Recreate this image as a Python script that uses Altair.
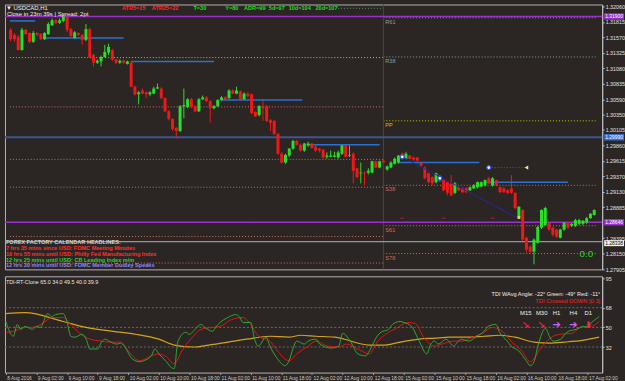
import altair as alt
import pandas as pd

BG = "#2b2623"
FONT = "Liberation Sans"
W = 602
H_MAIN = 267
H_IND = 97
GREEN = "#27e027"
RED = "#f01818"

# ---------------- H1 candles (USDCAD) ----------------
bar_open = [1.3169,1.3161,1.3158,1.3137,1.3169,1.3164,1.3150,1.3164,1.3162,1.3154,
1.3162,1.3176,1.3184,1.3180,1.3183,1.3189,1.3170,1.3156,1.3164,1.3161,
1.3153,1.3170,1.3129,1.3117,1.3119,1.3126,1.3133,1.3137,1.3122,1.3117,
1.3120,1.3115,1.3117,1.3079,1.3067,1.3073,1.3070,1.3067,1.3068,1.3076,
1.3076,1.3061,1.3040,1.3028,1.3014,1.3009,1.3048,1.3047,1.3059,1.3048,
1.3040,1.3059,1.3062,1.3056,1.3045,1.3048,1.3058,1.3062,1.3061,1.3073,
1.3068,1.3072,1.3059,1.3068,1.3067,1.3039,1.3034,1.3048,1.3048,1.3026,
1.3025,1.3004,1.2973,1.2959,1.2970,1.2981,1.2993,1.2987,1.2978,1.2986,
1.2989,1.2984,1.2981,1.2979,1.2968,1.2968,1.2968,1.2967,1.2973,1.2986,
1.2970,1.2973,1.2950,1.2942,1.2943,1.2943,1.2943,1.2961,1.2951,1.2962,
1.2948,1.2951,1.2957,1.2959,1.2973,1.2965,1.2970,1.2967,1.2967,1.2959,
1.2951,1.2942,1.2936,1.2928,1.2931,1.2931,1.2928,1.2926,1.2911,1.2920,
1.2918,1.2918,1.2915,1.2918,1.2920,1.2921,1.2923,1.2934,1.2923,1.2931,
1.2920,1.2918,1.2915,1.2918,1.2911,1.2873,1.2884,1.2840,1.2826,1.2818,
1.2832,1.2856,1.2860,1.2864,1.2856,1.2853,1.2840,1.2853,1.2864,1.2859,
1.2859,1.2862,1.2862,1.2864,1.2871,1.2876]
bar_close = [1.3154,1.3154,1.3137,1.3169,1.3162,1.3150,1.3164,1.3161,1.3154,1.3164,
1.3178,1.3184,1.3180,1.3184,1.3190,1.3169,1.3159,1.3165,1.3161,1.3153,
1.3170,1.3126,1.3117,1.3120,1.3126,1.3134,1.3142,1.3122,1.3117,1.3120,
1.3117,1.3119,1.3079,1.3067,1.3070,1.3068,1.3067,1.3070,1.3076,1.3078,
1.3061,1.3040,1.3028,1.3012,1.3009,1.3048,1.3050,1.3059,1.3047,1.3040,
1.3059,1.3062,1.3056,1.3045,1.3048,1.3058,1.3062,1.3059,1.3073,1.3068,
1.3073,1.3059,1.3068,1.3064,1.3037,1.3032,1.3048,1.3045,1.3025,1.3022,
1.3004,1.2973,1.2959,1.2971,1.2981,1.2993,1.2987,1.2978,1.2989,1.2989,
1.2982,1.2978,1.2978,1.2967,1.2970,1.2970,1.2970,1.2975,1.2986,1.2968,
1.2971,1.2946,1.2936,1.2943,1.2942,1.2946,1.2961,1.2951,1.2961,1.2959,
1.2953,1.2959,1.2965,1.2970,1.2965,1.2973,1.2965,1.2964,1.2962,1.2954,
1.2934,1.2928,1.2926,1.2942,1.2937,1.2915,1.2911,1.2907,1.2926,1.2915,
1.2912,1.2912,1.2920,1.2923,1.2928,1.2928,1.2931,1.2926,1.2934,1.2923,
1.2912,1.2912,1.2911,1.2911,1.2887,1.2889,1.2837,1.2821,1.2818,1.2837,
1.2857,1.2884,1.2887,1.2853,1.2845,1.2842,1.2853,1.2864,1.2856,1.2862,
1.2868,1.2868,1.2867,1.2871,1.2878,1.2884]
bar_high = [1.3172,1.3164,1.3161,1.3172,1.3170,1.3165,1.3167,1.3165,1.3164,1.3165,
1.3181,1.3187,1.3186,1.3187,1.3194,1.3190,1.3172,1.3167,1.3165,1.3162,
1.3178,1.3172,1.3131,1.3122,1.3128,1.3145,1.3147,1.3139,1.3123,1.3122,
1.3122,1.3120,1.3119,1.3081,1.3072,1.3076,1.3072,1.3072,1.3079,1.3084,
1.3078,1.3062,1.3042,1.3029,1.3015,1.3050,1.3076,1.3061,1.3061,1.3050,
1.3061,1.3065,1.3064,1.3058,1.3050,1.3059,1.3064,1.3064,1.3075,1.3075,
1.3079,1.3073,1.3070,1.3070,1.3068,1.3040,1.3050,1.3059,1.3050,1.3028,
1.3026,1.3006,1.2975,1.2973,1.2982,1.2995,1.2995,1.2989,1.2990,1.2992,
1.2990,1.2986,1.2982,1.2981,1.2975,1.2978,1.2976,1.2978,1.2987,1.2987,
1.2986,1.2975,1.2951,1.2959,1.2945,1.2950,1.2962,1.2962,1.2962,1.2964,
1.2954,1.2961,1.2967,1.2971,1.2975,1.2976,1.2971,1.2968,1.2968,1.2961,
1.2953,1.2943,1.2937,1.2943,1.2939,1.2932,1.2929,1.2939,1.2928,1.2921,
1.2920,1.2920,1.2921,1.2925,1.2929,1.2929,1.2932,1.2936,1.2936,1.2932,
1.2921,1.2920,1.2917,1.2939,1.2912,1.2890,1.2885,1.2842,1.2828,1.2839,
1.2859,1.2885,1.2889,1.2865,1.2857,1.2854,1.2854,1.2865,1.2865,1.2864,
1.2870,1.2870,1.2868,1.2873,1.2879,1.2885]
bar_low = [1.3151,1.3150,1.3136,1.3136,1.3161,1.3148,1.3148,1.3159,1.3153,1.3153,
1.3161,1.3175,1.3178,1.3178,1.3181,1.3165,1.3158,1.3154,1.3159,1.3145,
1.3151,1.3125,1.3111,1.3115,1.3111,1.3125,1.3129,1.3120,1.3115,1.3115,
1.3115,1.3114,1.3078,1.3065,1.3051,1.3067,1.3061,1.3064,1.3067,1.3075,
1.3059,1.3039,1.3026,1.3009,1.2997,1.3007,1.3029,1.3045,1.3045,1.3039,
1.3039,1.3058,1.3054,1.3022,1.3043,1.3047,1.3056,1.3058,1.3059,1.3067,
1.3067,1.3058,1.3058,1.3062,1.3036,1.3031,1.3032,1.3025,1.3023,1.3009,
1.3003,1.2971,1.2957,1.2957,1.2968,1.2979,1.2986,1.2976,1.2976,1.2984,
1.2981,1.2976,1.2975,1.2965,1.2965,1.2967,1.2967,1.2965,1.2971,1.2967,
1.2968,1.2926,1.2934,1.2926,1.2923,1.2940,1.2942,1.2950,1.2950,1.2957,
1.2946,1.2950,1.2956,1.2957,1.2964,1.2964,1.2964,1.2962,1.2961,1.2953,
1.2932,1.2926,1.2923,1.2926,1.2929,1.2914,1.2907,1.2906,1.2909,1.2914,
1.2911,1.2911,1.2914,1.2917,1.2918,1.2920,1.2921,1.2925,1.2921,1.2921,
1.2911,1.2911,1.2909,1.2909,1.2885,1.2871,1.2835,1.2817,1.2815,1.2798,
1.2831,1.2854,1.2859,1.2851,1.2842,1.2840,1.2839,1.2851,1.2854,1.2857,
1.2857,1.2860,1.2860,1.2862,1.2870,1.2875]

# ---------------- price axis ----------------
# (1.28640 sits under the 1.28646 price tag in the reference, so it is not shown)
price_ticks = [1.32060,1.31815,1.31570,1.31325,1.31080,1.30835,1.30590,1.30350,1.30105,
               1.29860,1.29615,1.29370,1.29130,1.28885,1.28395,1.28150,1.27905]
tag_prices = [1.31900, 1.29990, 1.28646]
tag_text = ["1.31900", "1.29990", "1.28646"]
tag_bg = ["#9932cc", "#3a6fd8", "#9932cc"]
bid_price = [1.28338]
bid_text = ["1.28338"]

# full-width solid lines
solid_prices = [1.31900, 1.29990, 1.28646, 1.28338]
solid_colors = ["#9932cc", "#3d5590", "#9932cc", "#8a98a8"]
solid_widths = [1.5, 2.2, 1.5, 1.2]

# previous-day pivot levels (left) and today's pivots (right)
left_start = [87, -0.2, -0.2, -0.2, -0.2, -0.2, -0.2]
left_prices = [1.3203, 1.3125, 1.3047, 1.2964, 1.2920, 1.2842, 1.2800]
left_colors = ["#4f9a6f", "#c8c800", "#cf6d62", "#cf6d62", "#cf6d62", "#cf6d62", "#cf6d62"]
pivot_names = ["R61", "R38", "PP", "S38", "S61", "S78"]
pivot_prices = [1.3188, 1.3126, 1.3025, 1.2923, 1.2859, 1.2815]
pivot_colors = ["#7fa3a3", "#7fa3a3", "#c8c800", "#cf6d62", "#cf6d62", "#cf6d62"]
split_bar = 99

# support/resistance segments
sr_start = [-0.2, 9, 32, 56, 79, 103, 126.5]
sr_end = [6.5, 30, 54, 77.5, 98, 124.5, 148]
sr_price = [1.3183, 1.3156, 1.3119, 1.3058, 1.2987, 1.2959, 1.2928]

# ---------------- TDI indicator ----------------
green_bar = [0,2,3,4,5,7,8,9,11,12,13,15,16,17,18,20,21,22,24,25,26,27,29,30,31,33,35,36,38,39,40,42,43,44,45,47,48,49,51,52,54,55,56,58,60,61,62,64,65,66,68,69,71,73,74,75,76,78,79,81,82,85,87,88,90,92,94,95,97,98,100,101,103,104,106,108,110,111,112,113,115,117,118,119,121,123,125,126,128,129,131,132,134,136,137,138,139,141,142,143,145,146,147,149,151,152,153,154,155]
green_val = [55.4,41.9,52.7,48.2,50.9,48.2,50.9,50,62.6,59.9,61.7,62.6,55.4,41.9,41,43.7,39.2,30.2,30.2,36.5,39.2,37.4,34.7,35.6,32.9,21.2,18.5,19.4,23.9,30.2,25.7,18.5,14,12.2,37.4,45.5,43.7,46.4,52.7,50,46.4,50.9,54.5,59,61.7,59.9,54.5,54.5,39.2,32.9,41,32.9,21.2,14.9,19.4,30.2,37.4,34.7,37.4,39.2,34.7,31.1,32.9,44.6,37.4,25.7,23.9,28.4,41.9,45.5,48.2,52.7,55.4,54.5,50.9,37.4,25.7,34.7,37.4,34.7,39.2,32.9,36.5,39.2,37.4,41.9,46.4,50.9,52.7,45.5,37.4,32.9,28.4,19.4,14.9,18.5,32.9,49.1,41.9,37.4,39.2,43.7,46.4,48.2,50.9,50,54.5,57.2,59.9]
red_bar = [0,2,5,7,10,12,15,17,19,22,25,27,30,32,35,38,40,42,44,46,49,51,54,56,59,62,64,66,69,71,74,76,79,81,84,87,89,92,95,97,100,102,105,107,109,112,114,117,119,122,125,127,130,132,135,137,140,143,145,148,150,153,155]
red_val = [45.5,46.4,50,50,54.5,59,59,52.7,45.5,39.2,37.4,36.5,36.5,28.4,19.4,23.9,25.7,23,16.7,28.4,41.9,48.2,50,50.9,57.2,59,52.7,41.9,37.4,28.4,19.4,25.7,32.9,37.4,32.9,32,34.7,30.2,25.7,36.5,45.5,49.1,54.5,53.6,41.9,32.9,34.7,37.4,37.4,41,45.5,50,45.5,37.4,27.5,18.5,32,41.9,43.7,44.6,50,50.9,55.4]
gold_bar = [0,5,15,21,28,34,40,44,49,53,58,63,69,74,77,81,86,95,99,103,108,112,116,120,125,129,133,138,142,146,151,155]
gold_val = [62.6,63.5,55.4,50,46.4,43.7,39.2,33.8,32,33.8,36.5,39.2,41.9,41,42.8,41.9,41,33.8,33.8,36.5,39.2,40.1,41,41,41.9,42.8,41,36.5,35.6,36.5,38.3,41]
tdi_levels = [68, 50, 32]
tdi_ticks = [95, 68, 50, 32, 8]

time_ticks = list(range(0, 153, 8))
time_labels = ["8 Aug 2016","9 Aug 02:00","9 Aug 10:00","9 Aug 18:00","10 Aug 02:00","10 Aug 10:00",
               "10 Aug 18:00","11 Aug 02:00","11 Aug 10:00","11 Aug 18:00","12 Aug 02:00","12 Aug 10:00",
               "12 Aug 18:00","15 Aug 02:00","15 Aug 10:00","15 Aug 18:00","16 Aug 02:00","16 Aug 10:00",
               "16 Aug 18:00","17 Aug 02:00"]

# ---------------- build ----------------
xs = alt.Scale(domain=[-0.2, 155.8], nice=False, zero=False)
ys = alt.Scale(domain=[1.2790, 1.3209], nice=False, zero=False)
iys = alt.Scale(domain=[8.6, 96.8], nice=False, zero=False)

yaxis = alt.Axis(orient="right", values=price_ticks, format=".5f", labelFontSize=5.4, labelFont=FONT,
                 labelColor="#e2e2e2", tickColor="#c0c0c0", tickSize=2, domainColor="#c0c0c0",
                 labelPadding=1, grid=False, title=None, labelOverlap=False, labelFlush=False)
xaxis = alt.Axis(orient="bottom", values=time_ticks,
                 labelExpr="[" + ",".join(f"'{t}'" for t in time_labels) + "][datum.value / 8]",
                 labelAlign="left", labelBaseline="top", labelFontSize=4.9, labelFont=FONT,
                 labelColor="#c8c8c8", tickColor="#a0a0a0", tickSize=2, domain=False, grid=False,
                 labelPadding=1, labelOverlap=False, labelFlush=False, title=None, labelOffset=1)
iyaxis = alt.Axis(orient="right", values=tdi_ticks, labelFontSize=5.4, labelFont=FONT, labelColor="#e2e2e2",
                  tickColor="#c0c0c0", tickSize=2, domainColor="#c0c0c0", labelPadding=1, grid=False,
                  title=None, labelOverlap=False, labelFlush=False)

def XQ(f):
    return alt.X(f"{f}:Q", scale=xs, axis=None)

def YQ(f):
    return alt.Y(f"{f}:Q", scale=ys, axis=yaxis)

def XI(f):
    return alt.X(f"{f}:Q", scale=xs, axis=xaxis)

def YI(f):
    return alt.Y(f"{f}:Q", scale=iys, axis=iyaxis)

def label(txt, px, py, color, size=7, weight="normal", align="left", font=FONT):
    return alt.Chart(pd.DataFrame({"t": [txt]})).mark_text(
        align=align, baseline="middle", color=color, fontSize=size, fontWeight=weight, font=font
    ).encode(x=alt.value(px), y=alt.value(py), text="t:N")

candles = pd.DataFrame({"bar": list(range(len(bar_open))), "open": bar_open, "high": bar_high,
                        "low": bar_low, "close": bar_close})
candles["dir"] = ["up" if c >= o else "down" for o, c in zip(bar_open, bar_close)]
cscale = alt.Scale(domain=["up", "down"], range=[GREEN, RED])

wicks = alt.Chart(candles).mark_rule(strokeWidth=1).encode(
    x=XQ("bar"), y=YQ("low"), y2="high:Q",
    color=alt.Color("dir:N", scale=cscale, legend=None))
bodies = alt.Chart(candles).mark_bar(size=3).encode(
    x=XQ("bar"), y=YQ("open"), y2="close:Q",
    color=alt.Color("dir:N", scale=cscale, legend=None))

left_df = pd.DataFrame({"x0": left_start, "x1": [split_bar] * len(left_prices), "p": left_prices, "c": left_colors})
right_df = pd.DataFrame({"x0": [split_bar] * len(pivot_prices), "x1": [155.8] * len(pivot_prices),
                         "p": pivot_prices, "c": pivot_colors, "name": pivot_names})
dotted = alt.Chart(pd.concat([left_df, right_df[["x0", "x1", "p", "c"]]])).mark_rule(
    strokeDash=[1, 2], strokeWidth=1).encode(x=XQ("x0"), x2="x1:Q", y=YQ("p"),
                                             color=alt.Color("c:N", scale=None))
pivot_txt = alt.Chart(right_df).mark_text(align="left", baseline="middle", dx=2, dy=4, fontSize=5.6,
                                          font=FONT).encode(
    x=XQ("x0"), y=YQ("p"), text="name:N", color=alt.Color("c:N", scale=None))
sep = alt.Chart(pd.DataFrame({"b": [split_bar]})).mark_rule(color="#4a4644", strokeWidth=1).encode(x=XQ("b"))

solid_df = pd.DataFrame({"p": solid_prices, "c": solid_colors, "w": solid_widths})
solid = alt.Chart(solid_df).mark_rule().encode(
    y=YQ("p"), color=alt.Color("c:N", scale=None), strokeWidth=alt.StrokeWidth("w:Q", scale=None))

sr_df = pd.DataFrame({"x0": sr_start, "x1": sr_end, "p": sr_price})
sr = alt.Chart(sr_df).mark_rule(color="#2a72d0", strokeWidth=1.5).encode(x=XQ("x0"), x2="x1:Q", y=YQ("p"))

trend = alt.Chart(pd.DataFrame({"b": [104, 135], "p": [1.2968, 1.2870]})).mark_line(
    color="#2424a8", strokeWidth=1).encode(x=XQ("b"), y=YQ("p"))
reddot = alt.Chart(pd.DataFrame({"b0": [127], "b1": [137], "p": [1.2951]})).mark_rule(
    color="#d03030", strokeDash=[1, 2]).encode(x=XQ("b0"), x2="b1:Q", y=YQ("p"))
circles = alt.Chart(pd.DataFrame({"b": [104, 114, 127], "p": [1.2968, 1.2934, 1.2951]})).mark_point(
    filled=True, fill="#ffffff", stroke="#3050e0", strokeWidth=1.2, size=16, opacity=1).encode(x=XQ("b"), y=YQ("p"))
tri = alt.Chart(pd.DataFrame({"b": [137], "p": [1.2951]})).mark_point(
    shape="triangle-left", filled=True, color="#f0e0b0", size=18, opacity=1).encode(x=XQ("b"), y=YQ("p"))
ymark = alt.Chart(pd.DataFrame({"b": [135], "p": [1.2872]})).mark_point(
    shape="square", filled=True, color="#f0d060", size=8, opacity=1).encode(x=XQ("b"), y=YQ("p"))
rdash = alt.Chart(pd.DataFrame({"b": [104, 115, 128], "p": [1.2871] * 3})).mark_tick(
    orient="horizontal", size=4, thickness=1, color="#e02020").encode(x=XQ("b"), y=YQ("p"))

tag_df = pd.DataFrame({"p": tag_prices, "t": tag_text, "bg": tag_bg})
tags_bg = alt.Chart(tag_df).mark_tick(orient="horizontal", size=20, thickness=6.5, opacity=1).encode(
    x=alt.value(W + 12), y=YQ("p"), color=alt.Color("bg:N", scale=None))
tags_tx = alt.Chart(tag_df).mark_text(align="left", baseline="middle", fontSize=5.0, font=FONT,
                                      color="#ffffff").encode(x=alt.value(W + 3), y=YQ("p"), text="t:N")
bid_df = pd.DataFrame({"p": bid_price, "t": bid_text})
bid_bg = alt.Chart(bid_df).mark_tick(orient="horizontal", size=20, thickness=6, opacity=1, color="#f0f0f0",
                                     yOffset=1.5).encode(x=alt.value(W + 12), y=YQ("p"))
bid_tx = alt.Chart(bid_df).mark_text(align="left", baseline="middle", fontSize=5.0, font=FONT, dy=1.8,
                                     color="#000000").encode(x=alt.value(W + 3), y=YQ("p"), text="t:N")

HB = 5.6
texts = [
    label("\u25bc USDCAD,H1", 1, 4, "#f0f0f0", 6),
    label("ATR5=15", 118, 4, "#ff2a2a", HB, "bold"),
    label("ATR25=22", 148, 4, "#ff2a2a", HB, "bold"),
    label("T=30", 190, 4, "#22dd22", HB, "bold"),
    label("Y=80", 222, 4, "#22dd22", HB, "bold"),
    label("ADR=99", 241, 4, "#22dd22", HB, "bold"),
    label("5d=97", 266, 4, "#22dd22", HB, "bold"),
    label("10d=104", 286, 4, "#22dd22", HB, "bold"),
    label("20d=107", 313, 4, "#22dd22", HB, "bold"),
    label("Close in 23m 39s | Spread: 2pt", 2, 10, "#f0f0f0", 6),
    label("FOREX FACTORY CALENDAR HEADLINES:", 1, 239, "#d0d0d0", 5.6, "bold"),
    label("7 hrs 35 mins since USD: FOMC Meeting Minutes", 1, 245.5, "#ff3030", 5.6, "bold"),
    label("10 hrs 55 mins until USD: Philly Fed Manufacturing Index", 1, 251.5, "#ff3030", 5.6, "bold"),
    label("12 hrs 25 mins until USD: CB Leading Index m/m", 1, 257.5, "#30d030", 5.6, "bold"),
    label("12 hrs 30 mins until USD: FOMC Member Dudley Speaks", 1, 263, "#8a8aff", 5.6, "bold"),
    label("0.0", 586, 252, "#30d030", 10, "normal", "center"),
]

main = alt.layer(wicks, dotted, sep, solid, sr, bodies, trend, reddot, circles, tri, ymark, rdash,
                 pivot_txt, tags_bg, tags_tx, bid_bg, bid_tx, *texts).properties(width=W, height=H_MAIN)

# indicator panel
lv = alt.Chart(pd.DataFrame({"v": tdi_levels})).mark_rule(color="#6e6a68", strokeDash=[2, 2]).encode(
    y=YI("v"))
gold = alt.Chart(pd.DataFrame({"bar": gold_bar, "v": gold_val})).mark_line(
    color="#d4a21c", strokeWidth=1.2, interpolate="monotone").encode(x=XI("bar"), y=YI("v"))
redl = alt.Chart(pd.DataFrame({"bar": red_bar, "v": red_val})).mark_line(
    color="#e01414", strokeWidth=1, interpolate="monotone").encode(x=XI("bar"), y=YI("v"))
greenl = alt.Chart(pd.DataFrame({"bar": green_bar, "v": green_val})).mark_line(
    color="#2fa82f", strokeWidth=1, interpolate="monotone").encode(x=XI("bar"), y=YI("v"))

itexts = [
    label("TDI-RT-Clone 65.0 34.0 49.5 40.0 39.9", 1, 6, "#e8e8e8", 5.4),
    label("TDI WAvg Angle: -22\u00b0  Green: -49\u00b0  Red: -11\u00b0", 600, 18, "#f0f0f0", 5.6, "normal", "right"),
    label("TDI Crossed DOWN [0.3]", 600, 25, "#ff2020", 5.8, "normal", "right"),
    label("M15", 525, 37, "#f0f0f0", 6, "normal", "center"),
    label("M30", 541, 37, "#f0f0f0", 6, "normal", "center"),
    label("H1", 556, 37, "#f0f0f0", 6, "normal", "center"),
    label("H4", 573, 37, "#f0f0f0", 6, "normal", "center"),
    label("D1", 588, 37, "#f0f0f0", 6, "normal", "center"),
    label("\u2798", 525, 49, "#ff2050", 10, "bold", "center", "DejaVu Sans"),
    label("\u2798", 541, 49, "#ff2050", 10, "bold", "center", "DejaVu Sans"),
    label("\u2794", 556, 49, "#cc66ff", 10, "bold", "center", "DejaVu Sans"),
    label("\u2794", 573, 49, "#cc66ff", 10, "bold", "center", "DejaVu Sans"),
    label("\u2b07", 588, 49, "#ff2050", 9, "bold", "center", "DejaVu Sans"),
]

ind = alt.layer(lv, gold, redl, greenl, *itexts).properties(width=W, height=H_IND)

chart = alt.vconcat(main, ind, spacing=2).configure(
    background=BG, padding={"left": 2, "top": 2, "right": 0, "bottom": 0}
).configure_view(stroke="#b4b4b4", strokeWidth=1, fill=BG)

chart.save("out.html", embed_options={"renderer": "svg", "actions": False})
